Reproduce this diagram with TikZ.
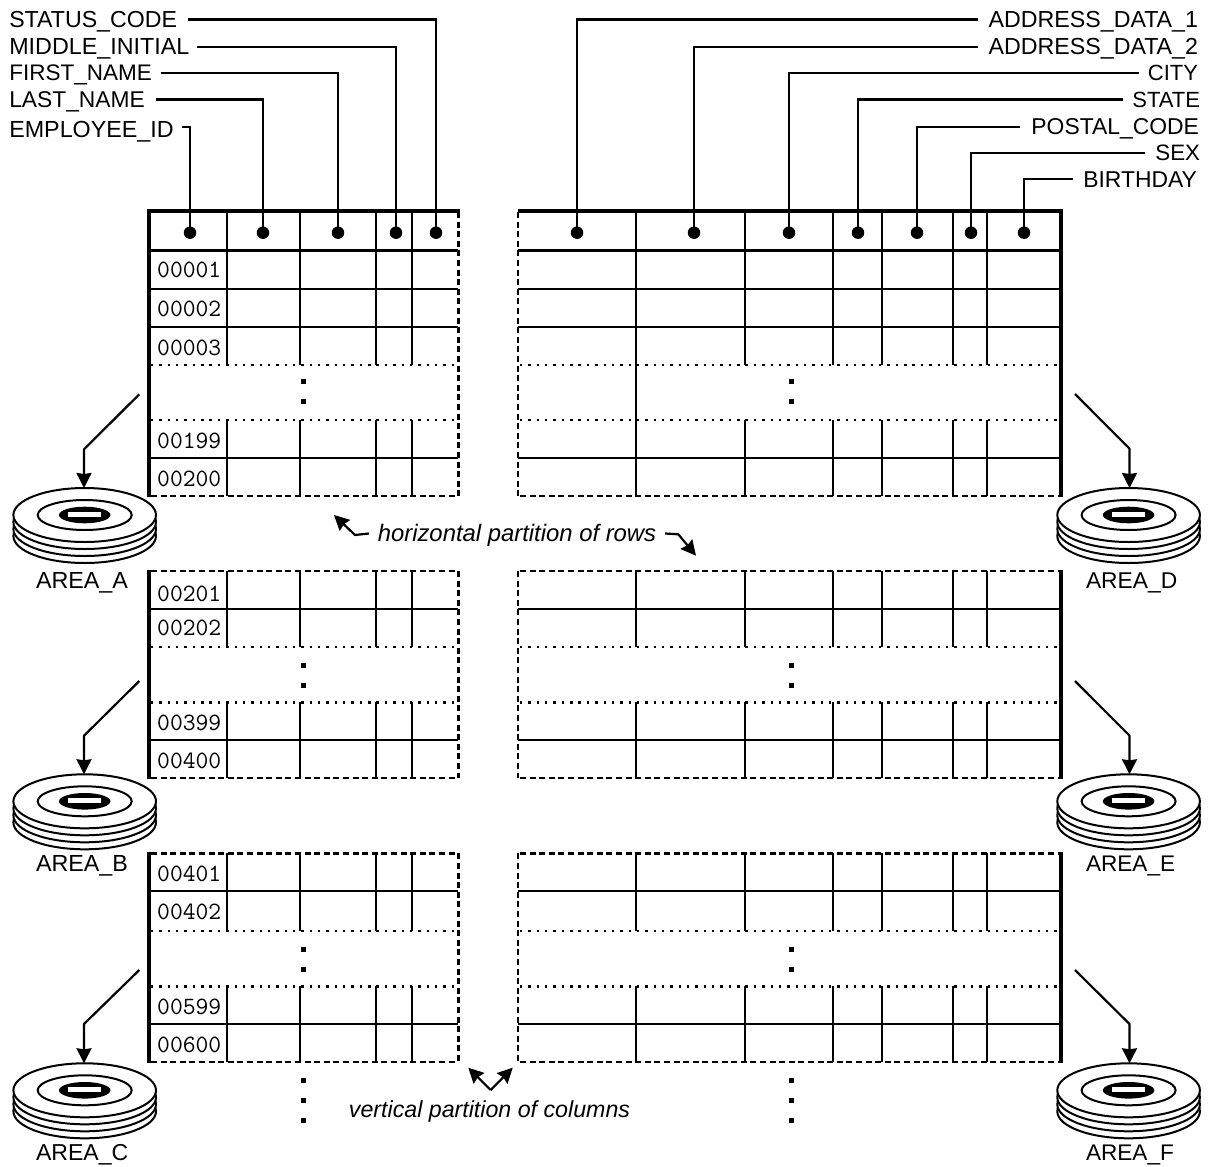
\documentclass[tikz,border=0pt]{standalone}
\usepackage{fontspec}
\setmainfont{Liberation Sans}
\usetikzlibrary{arrows.meta,shapes.geometric}
\newcommand{\fs}[1]{\fontsize{#1}{25}\selectfont}
\tikzset{
  lab/.style={font=\fs{23.3},inner ysep=0pt,outer sep=0pt,text height=16pt,text depth=0pt},
  areatext/.style={font=\fs{23.3},inner sep=0pt,outer sep=0pt,text height=16pt,text depth=0pt,anchor=west},
  itlab/.style={font=\fs{23.85}\itshape,inner ysep=0pt,outer sep=0pt,text height=16pt,text depth=0pt},
  idtext/.style={font=\fs{24.9}\ttfamily,inner sep=0pt,anchor=west,text height=14pt,text depth=0pt,text=black},
  pin/.style={circle,fill=black,minimum size=12.5pt,inner sep=0pt,outer sep=0pt},
  leader/.style={line width=2.2pt,line join=miter},
  cell/.style={line width=2.2pt},
  thickv/.style={line width=4pt},
  thickh/.style={line width=3.7pt},
  midh/.style={line width=3.2pt},
  dashl/.style={line width=2.4pt,dash pattern=on 6pt off 3.6pt},
  dotl/.style={line width=2.4pt,dash pattern=on 2.4pt off 5.95pt},
  sq/.style={fill=black,minimum size=4.5pt,inner sep=0pt,outer sep=0pt,rectangle},
  arr/.style={line width=2.2pt,line join=bevel,-{Stealth[length=15pt,width=15pt,inset=1pt]}},
  arrs/.style={line width=2.2pt,line join=bevel,-{Stealth[length=15pt,width=15pt,inset=1.5pt]}},
  disklayer/.style={ellipse,draw=black,fill=white,line width=2pt,minimum width=142.6pt,minimum height=54pt,inner sep=0pt,outer sep=0pt},
  diskring/.style={ellipse,draw=black,fill=white,line width=2pt,minimum width=94pt,minimum height=30pt,inner sep=0pt},
  diskhub/.style={ellipse,fill=black,minimum width=51.5pt,minimum height=16.6pt,inner sep=0pt},
  diskslot/.style={rectangle,fill=white,minimum width=33pt,minimum height=5pt,inner sep=0pt}
}
\newcommand{\leftlab}[4]{\node[lab,inner xsep=#3pt,anchor=west] (#1) at (9.3-#3,#2) {#4};}
\newcommand{\rightlab}[5]{\node[lab,inner xsep=#4pt,anchor=east] (#1) at (#3+#4,#2) {#5};}
\newcommand{\diskicon}[3]{%
  \node[disklayer] (#1c) at (#2,#3+21) {};
  \node[disklayer] (#1b) at (#2,#3+14) {};
  \node[disklayer] (#1a) at (#2,#3+7) {};
  \node[disklayer] (#1) at (#2,#3) {};
  \node[diskring] (#1r) at (#2,#3) {};
  \node[diskhub] (#1h) at (#2,#3) {};
  \node[diskslot] (#1s) at (#2,#3-0.5) {};
}
\newcommand{\colsleft}[2]{\foreach \cx in {227.3,300.3,376.3,411.7} \draw[cell] (\cx,#1) -- (\cx,#2);}
\newcommand{\colsright}[2]{\foreach \cx in {636,745,833,882,953,987} \draw[cell] (\cx,#1) -- (\cx,#2);}
\newcommand{\hrow}[2][cell]{\draw[#1] (150,#2) -- (458,#2); \draw[#1] (518,#2) -- (1060,#2);}
\newcommand{\drow}[2][dotl]{\draw[#1] (151,#2) -- (458,#2); \draw[#1] (520,#2) -- (1060,#2);}
\newcommand{\gapdots}[1]{\node[sq] at (303.5,#1) {}; \node[sq] at (303.5,#1+20) {}; \node[sq] at (791.7,#1) {}; \node[sq] at (791.7,#1+20) {};}
\begin{document}
\begin{tikzpicture}[x=1pt,y=-1pt]
\useasboundingbox (0,0) rectangle (1208,1167);
% ---------- column lines
\colsleft{210}{365}\colsleft{420}{496}
\colsright{210}{365}\colsright{420}{496}
\draw[cell] (636,365) -- (636,420);
\colsleft{571}{647}\colsleft{702.3}{778}
\colsright{571}{647}\colsright{702.3}{778}
\colsleft{853.3}{931}\colsleft{986.3}{1062}
\colsright{853.3}{931}\colsright{986.3}{1062}
% ---------- block 1 rules
\draw[thickh] (147,210.7) -- (460,210.7);
\draw[thickh] (518,210.7) -- (1063,210.7);
\hrow[midh]{250.7}
\hrow{289.3}\hrow{327}\hrow{458}
\drow{365}\drow{420}
\drow[dashl]{495.7}
% ---------- block 2 rules
\drow[dashl]{571}
\hrow{609}\hrow{740}
\drow{646.7}\drow{702.3}
\drow[dashl]{777.7}
% ---------- block 3 rules
\drow[dashl]{853.3}
\hrow{891}\hrow{1024}
\drow{930.7}\drow{986.3}
\drow[dashl]{1061.7}
% ---------- dashed partition edges
\foreach \ya/\yb in {212/496,571/778,853.3/1062}{
  \draw[dashl] (458.3,\ya) -- (458.3,\yb);
  \draw[dashl] (518,\ya) -- (518,\yb);
}
% ---------- thick outer edges
\foreach \ya/\yb in {209/497,570/779,852/1063}{
  \draw[thickv] (148.7,\ya) -- (148.7,\yb);
  \draw[thickv] (1061,\ya) -- (1061,\yb);
}
% ---------- ellipsis squares
\gapdots{381.7}\gapdots{665.7}\gapdots{949.7}\gapdots{1080.7}
\node[sq] at (303.5,1120.7) {};
\node[sq] at (791.7,1120.7) {};
% ---------- row ids
\foreach \t/\y in {00001/270,00002/309,00003/348,00199/441,00200/479,00201/594,00202/628,00399/723,00400/761,00401/874,00402/912,00599/1007,00600/1045}
  \node[idtext] at (157,\y) {\t};
% ---------- pins
\foreach \n/\x in {l1/190,l2/263,l3/338,l4/396,l5/436,r1/577,r2/694,r3/789,r4/858,r5/917,r6/971,r7/1024}
  \node[pin] (\n) at (\x,232.7) {};
% ---------- column labels
\leftlab{a1}{19.5}{11.5}{\fs{23.15}STATUS\_CODE}
\leftlab{a2}{46.7}{8}{MIDDLE\_INITIAL}
\leftlab{a3}{72.7}{9.2}{\fs{22.5}FIRST\_NAME}
\leftlab{a4}{99.5}{11}{\fs{22.8}LAST\_NAME}
\leftlab{a5}{126.7}{8.6}{\raisebox{-2.5pt}{EMPLOYEE\_ID}}
\rightlab{b1}{19.5}{1198}{11}{\fs{23.2}ADDRESS\_DATA\_1}
\rightlab{b2}{46.7}{1198}{11}{\fs{23.2}ADDRESS\_DATA\_2}
\rightlab{b3}{72.7}{1198}{9}{\fs{22}CITY}
\rightlab{b4}{99.5}{1200}{9}{\fs{22}STATE}
\rightlab{b5}{126.7}{1199}{11}{\fs{22.9}POSTAL\_CODE}
\rightlab{b6}{152.7}{1200}{10}{\fs{22.3}SEX}
\rightlab{b7}{179.3}{1197}{10}{\fs{22.9}BIRTHDAY}
\draw[leader] (a1.east) -| (l5.center);
\draw[leader] (a2.east) -| (l4.center);
\draw[leader] (a3.east) -| (l3.center);
\draw[leader] (a4.east) -| (l2.center);
\draw[leader] (a5.east) -| (l1.center);
\draw[leader] (b1.west) -| (r1.center);
\draw[leader] (b2.west) -| (r2.center);
\draw[leader] (b3.west) -| (r3.center);
\draw[leader] (b4.west) -| (r4.center);
\draw[leader] (b5.west) -| (r5.center);
\draw[leader] (b6.west) -| (r6.center);
\draw[leader] (b7.west) -| (r7.center);
% ---------- disks
\diskicon{dA}{84.7}{515}
\diskicon{dB}{84.7}{801.3}
\diskicon{dC}{84.7}{1090.3}
\diskicon{dD}{1128.6}{515}
\diskicon{dE}{1128.6}{801.3}
\diskicon{dF}{1128.6}{1090.3}
\node[areatext] (tA) at (36,580) {AREA\_A};
\node[areatext] (tB) at (36,863.3) {AREA\_B};
\node[areatext] (tC) at (36,1152.7) {\fs{23.05}AREA\_C};
\node[areatext] (tD) at (1086,580) {\fs{22.8}AREA\_D};
\node[areatext] (tE) at (1086,863.3) {\fs{22.6}AREA\_E};
\node[areatext] (tF) at (1086,1152.7) {\fs{22.6}AREA\_F};
% ---------- disk arrows
\foreach \dk/\ya/\yb in {A/394.3/449.3,B/681/735.7,C/970/1024}{
  \coordinate (s\dk) at (139.3,\ya);
  \coordinate (k\dk) at (84,\yb);
  \draw[arr] (s\dk) -- (k\dk) -- (k\dk |- d\dk.north);
}
\foreach \dk/\ya/\yb in {D/394/448.7,E/681/735.7,F/970/1024}{
  \coordinate (s\dk) at (1075,\ya);
  \coordinate (k\dk) at (1129.5,\yb);
  \draw[arr] (s\dk) -- (k\dk) -- (k\dk |- d\dk.north);
}
% ---------- partition labels
\node[itlab,inner xsep=9pt] (hp) at (517,533.5) {horizontal partition of rows};
\coordinate (hl) at (334,515);
\coordinate (hr) at (696,555.7);
\coordinate (hlk) at (355,535);
\coordinate (hrk) at (678.3,534.3);
\draw[arrs] (hp.west) -- (hlk) -- (hl);
\draw[arrs] (hp.east) -- (hrk) -- (hr);
\node[itlab,inner xsep=0pt,font=\fs{23.2}\itshape] (vp) at (489.5,1109) {vertical partition of columns};
\coordinate (vk) at (490.7,1090);
\coordinate (vl) at (468.3,1067.7);
\coordinate (vr) at (512.7,1067.7);
\draw[arrs] (vk) -- (vl);
\draw[arrs] (vk) -- (vr);
\end{tikzpicture}
\end{document}
